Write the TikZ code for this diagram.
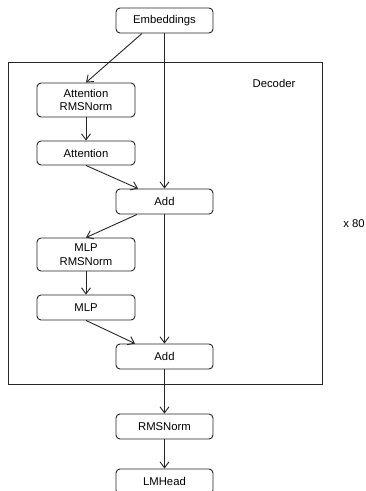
\documentclass[tikz,border=0pt]{standalone}
\usepackage{fontspec}
\setmainfont{Liberation Sans}
\usetikzlibrary{arrows.meta}
\begin{document}
\begin{tikzpicture}[x=1pt,y=-1pt,
  blk/.style={draw=black!85, line width=0.9pt, rounded corners=4pt, fill=white, align=center,
    font=\fontsize{11.3}{13.6}\selectfont, inner sep=0pt},
  conn/.style={draw=black!85, line width=0.9pt, -{Straight Barb[length=6pt,width=9pt,line width=0.9pt]}},
  lbl/.style={font=\fontsize{11.3}{13.6}\selectfont, inner sep=0pt}]
\clip (0,0) rectangle (365,491);
\fill[white] (0,0) rectangle (365,491);
% decoder frame
\draw[draw=black!85, line width=0.9pt] (8,62) rectangle (322,384);
\node[lbl] (dec) at (274,83) {Decoder};
\node[lbl] (x80) at (354,224) {x 80};
% blocks
\node[blk, minimum width=97pt, minimum height=25pt] (emb) at (164.5,20.5) {Embeddings};
\node[blk, minimum width=98pt, minimum height=34pt] (arms) at (86,100) {Attention\\RMSNorm};
\node[blk, minimum width=98pt, minimum height=24pt] (att) at (86,153) {Attention};
\node[blk, minimum width=97pt, minimum height=25pt] (add1) at (164.5,201.5) {Add};
\node[blk, minimum width=98pt, minimum height=33pt] (mrms) at (86,254.5) {MLP\\RMSNorm};
\node[blk, minimum width=98pt, minimum height=25pt] (mlp) at (86,307.5) {MLP};
\node[blk, minimum width=97pt, minimum height=25pt] (add2) at (164.5,356.5) {Add};
\node[blk, minimum width=97pt, minimum height=25pt] (rms) at (164.5,426.5) {RMSNorm};
\node[blk, minimum width=97pt, minimum height=25pt] (lmh) at (164.5,481.5) {LMHead};
% connectors
\draw[conn] ([xshift=-22.5pt]emb.south) -- (arms.north);
\draw[conn] (emb.south) -- (add1.north);
\draw[conn] (arms.south) -- (att.north);
\draw[conn] (att.south) -- ([xshift=-26.5pt]add1.north);
\draw[conn] ([xshift=-27.5pt]add1.south) -- (mrms.north);
\draw[conn] (add1.south) -- (add2.north);
\draw[conn] (mrms.south) -- (mlp.north);
\draw[conn] (mlp.south) -- ([xshift=-29.5pt]add2.north);
\draw[conn] (add2.south) -- (rms.north);
\draw[conn] (rms.south) -- (lmh.north);
\end{tikzpicture}
\end{document}
